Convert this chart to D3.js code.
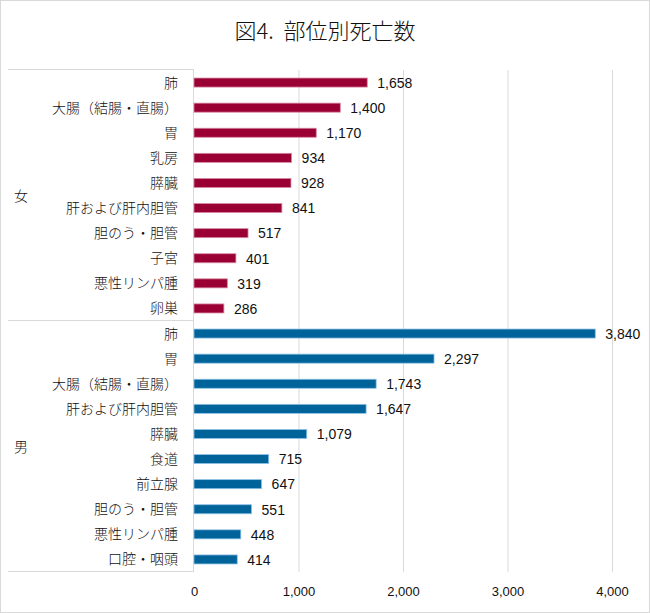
<!DOCTYPE html>
<html>
<head>
<meta charset="utf-8">
<script src="https://cdn.jsdelivr.net/npm/d3@7"></script>
<style>
  body { margin: 0; background: #fff; }
  svg text { font-family: "Noto Sans CJK JP", "Noto Sans", sans-serif; }
  svg text.num { font-family: "Liberation Sans", Arial, sans-serif; }
</style>
</head>
<body>
<div id="chart"></div>
<script>
// data
var groups = ["女", "男"];
var femaleSites = ["肺", "大腸（結腸・直腸）", "胃", "乳房", "膵臓", "肝および肝内胆管", "胆のう・胆管", "子宮", "悪性リンパ腫", "卵巣"];
var femaleDeaths = [1658, 1400, 1170, 934, 928, 841, 517, 401, 319, 286];
var maleSites = ["肺", "胃", "大腸（結腸・直腸）", "肝および肝内胆管", "膵臓", "食道", "前立腺", "胆のう・胆管", "悪性リンパ腫", "口腔・咽頭"];
var maleDeaths = [3840, 2297, 1743, 1647, 1079, 715, 647, 551, 448, 414];
var xTicks = [0, 1000, 2000, 3000, 4000];

var w = 650, h = 613;
// plot area (note: "top" is reserved on window, so use other names)
var plotLeft = 194, plotRight = 612, plotTop = 70, plotBottom = 572;
var fmt = d3.format(",");

var rows = [];
femaleSites.forEach(function(s, i) { rows.push({ g: 0, site: s, v: femaleDeaths[i] }); });
maleSites.forEach(function(s, i) { rows.push({ g: 1, site: s, v: maleDeaths[i] }); });

var xScale = d3.scaleLinear().domain([0, 4000]).range([plotLeft, plotRight]);
var yScale = d3.scaleBand()
    .domain(d3.range(rows.length))
    .range([plotTop, plotBottom])
    .paddingInner(0.64)
    .paddingOuter(0.32);
var step = yScale.step();

var svg = d3.select("#chart").append("svg")
    .attr("width", w)
    .attr("height", h);

// outer frame
svg.append("rect")
    .attr("x", 0.5).attr("y", 0.5)
    .attr("width", w - 1).attr("height", h - 1)
    .attr("fill", "#fff")
    .attr("stroke", "#d9d9d9");

// title
svg.append("text")
    .attr("x", 325).attr("y", 39)
    .attr("text-anchor", "middle")
    .attr("font-size", 22)
    .attr("font-weight", 300)
    .attr("fill", "#111")
    .style("white-space", "pre")
    .text("図4.  部位別死亡数");

// gridlines
svg.append("g")
    .selectAll("line")
    .data(xTicks.slice(1))
    .enter().append("line")
    .attr("x1", function(d) { return xScale(d) + 0.5; })
    .attr("x2", function(d) { return xScale(d) + 0.5; })
    .attr("y1", plotTop).attr("y2", plotBottom)
    .attr("stroke", "#d9d9d9");

// x axis labels
var xAxis = d3.axisBottom(xScale).tickValues(xTicks).tickFormat(fmt).tickSize(0).tickPadding(0);
var ax = svg.append("g")
    .attr("transform", "translate(0," + 587 + ")")
    .call(xAxis);
ax.select(".domain").remove();
ax.selectAll("text")
    .attr("class", "num")
    .attr("font-size", 13)
    .attr("fill", "#111");

// left category table lines
var tbl = svg.append("g").attr("stroke", "#d9d9d9").attr("fill", "none");
var sepY = [plotTop, plotTop + step * femaleSites.length, plotBottom];
sepY.forEach(function(y) {
    tbl.append("line")
        .attr("x1", 8).attr("x2", plotLeft)
        .attr("y1", Math.round(y) - 0.5).attr("y2", Math.round(y) - 0.5);
});
tbl.append("line")
    .attr("x1", plotLeft - 0.5).attr("x2", plotLeft - 0.5)
    .attr("y1", plotTop).attr("y2", plotBottom);

// category labels
svg.append("g")
    .selectAll("text")
    .data(rows)
    .enter().append("text")
    .attr("x", 178)
    .attr("y", function(d, i) { return yScale(i) + yScale.bandwidth() / 2; })
    .attr("dy", "0.36em")
    .attr("text-anchor", "end")
    .attr("font-size", 14)
    .attr("font-weight", 300)
    .attr("fill", "#111")
    .text(function(d) { return d.site; });

// group labels
svg.append("g")
    .selectAll("text")
    .data(groups)
    .enter().append("text")
    .attr("x", 14)
    .attr("y", function(d, i) {
        var n = i == 0 ? 0 : femaleSites.length;
        var m = i == 0 ? femaleSites.length : rows.length;
        return (yScale(n) + yScale(m - 1) + yScale.bandwidth()) / 2;
    })
    .attr("dy", "0.36em")
    .attr("font-size", 14)
    .attr("font-weight", 300)
    .attr("fill", "#111")
    .text(function(d) { return d; });

// bars
svg.append("g")
    .selectAll("rect")
    .data(rows)
    .enter().append("rect")
    .attr("x", xScale(0))
    .attr("y", function(d, i) { return yScale(i); })
    .attr("width", function(d) { return xScale(d.v) - xScale(0); })
    .attr("height", yScale.bandwidth())
    .attr("fill", function(d) { return d.g == 0 ? "#9b0035" : "#00639a"; })
    .attr("stroke", function(d) { return d.g == 0 ? "#d68aa0" : "#8fc3e6"; })
    .attr("stroke-width", 0.8);

// value labels
svg.append("g")
    .selectAll("text")
    .data(rows)
    .enter().append("text")
    .attr("class", "num")
    .attr("x", function(d) { return xScale(d.v) + 10; })
    .attr("y", function(d, i) { return yScale(i) + yScale.bandwidth() / 2; })
    .attr("dy", "0.38em")
    .attr("font-size", 14)
    .attr("fill", "#111")
    .text(function(d) { return fmt(d.v); });
</script>
</body>
</html>
